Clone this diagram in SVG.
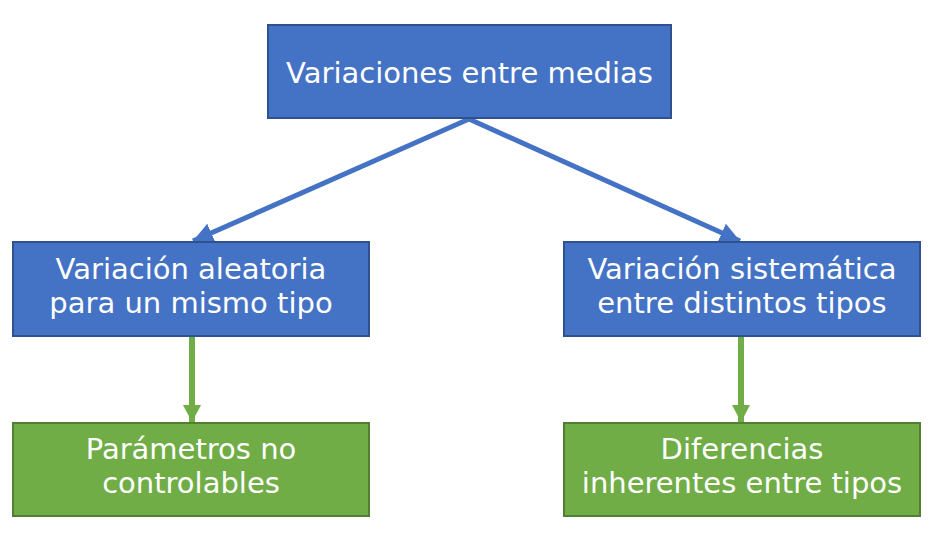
<svg xmlns="http://www.w3.org/2000/svg" width="938" height="542" viewBox="0 0 938 542">
<style>
.b{fill:#4472C4;stroke:#2F528F;stroke-width:2}
.g{fill:#70AD47;stroke:#507E32;stroke-width:2}
.t{font-family:"DejaVu Sans","Open Sans",sans-serif;font-size:29px;fill:#fff;text-anchor:middle}
.cb{stroke:#4472C4;stroke-width:5;fill:none}
.cg{stroke:#70AD47;stroke-width:6;fill:none}
</style>
<defs>
<marker id="ab" markerUnits="userSpaceOnUse" markerWidth="22" markerHeight="22" refX="20" refY="10" orient="auto" viewBox="0 0 22 20"><path d="M0,0 L20,10 L0,20 z" fill="#4472C4"/></marker>
<marker id="ag" markerUnits="userSpaceOnUse" markerWidth="18" markerHeight="18" refX="17" refY="9" orient="auto" viewBox="0 0 18 18"><path d="M0,0 L17,9 L0,18 z" fill="#70AD47"/></marker>
</defs>
<rect width="938" height="542" fill="#fff"/>
<g id="connectors">
<line class="cb" x1="469" y1="119" x2="193" y2="241" marker-end="url(#ab)"/>
<line class="cb" x1="469" y1="119" x2="740" y2="241" marker-end="url(#ab)"/>
<line class="cg" x1="192" y1="337" x2="192" y2="422" marker-end="url(#ag)"/>
<line class="cg" x1="741" y1="337" x2="741" y2="422" marker-end="url(#ag)"/>
</g>
<g id="top">
<rect class="b" x="268" y="25" width="403" height="93"/>
<text class="t" x="469.5" y="83">Variaciones entre medias</text>
</g>
<g id="left">
<rect class="b" x="13" y="242" width="356" height="94"/>
<text class="t"><tspan x="191" y="279">Variación aleatoria</tspan><tspan x="191" y="313">para un mismo tipo</tspan></text>
</g>
<g id="right">
<rect class="b" x="564" y="242" width="356" height="94"/>
<text class="t"><tspan x="742" y="279">Variación sistemática</tspan><tspan x="742" y="313">entre distintos tipos</tspan></text>
</g>
<g id="leftbottom">
<rect class="g" x="13" y="423" width="356" height="93"/>
<text class="t"><tspan x="191" y="459">Parámetros no</tspan><tspan x="191" y="493">controlables</tspan></text>
</g>
<g id="rightbottom">
<rect class="g" x="564" y="423" width="356" height="93"/>
<text class="t"><tspan x="742" y="459">Diferencias</tspan><tspan x="742" y="493">inherentes entre tipos</tspan></text>
</g>
</svg>
